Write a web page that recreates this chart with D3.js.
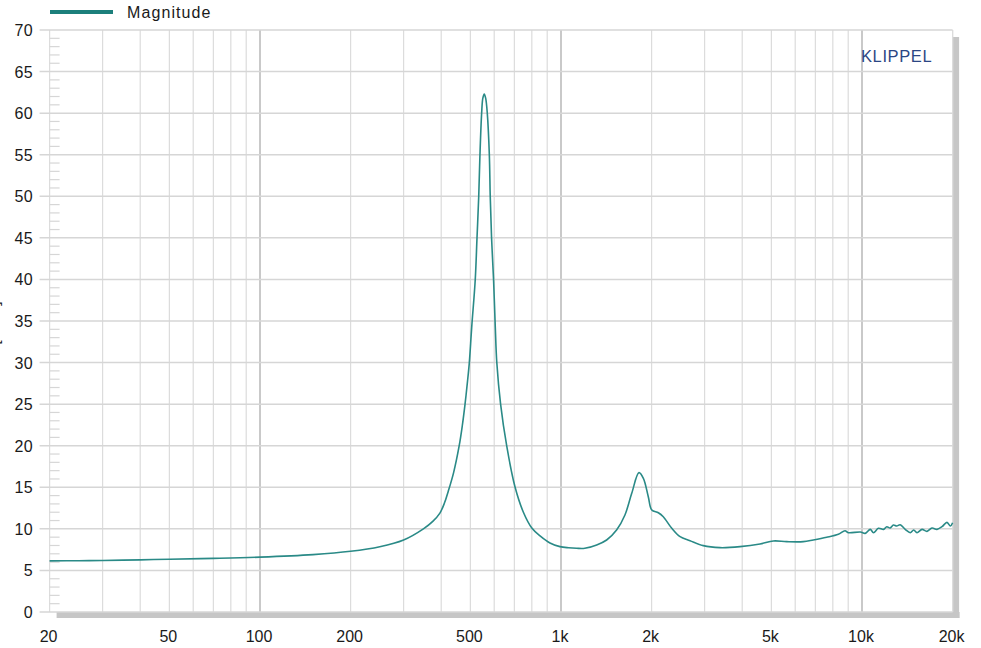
<!DOCTYPE html>
<html><head><meta charset="utf-8">
<script src="https://cdn.jsdelivr.net/npm/d3@7"></script>
<style>
html,body{margin:0;padding:0;background:#fff;}
svg{display:block;font-family:Arial,"Liberation Sans",sans-serif;}
</style></head>
<body><svg id="chart" width="981" height="648"></svg>
<script>
const freqs = [20,25,30,40,50,70,100,150,200,250,300,349,375,396,410,422,440,459,470,480,489,496,505,519,526,533,538,545,550,556,562,569,578,582,588,597,605,612,630,660,704,750,800,852,919,992,1060,1127,1200,1314,1418,1530,1631,1718,1816,1878,1950,2003,2106,2187,2334,2487,2684,2970,3375,3934,4584,5075,5622,6383,6888,7633,8344,8783,9000,9873,10250,10650,10920,11340,11790,12090,12400,12720,13040,13390,13920,14470,14850,15230,15830,16440,17080,17750,18440,19160,19660,20000];
const magnitude = [6.15,6.17,6.2,6.27,6.35,6.45,6.6,6.9,7.3,7.85,8.66,10.0,10.9,11.9,13.1,14.5,16.8,20.0,22.4,25.0,27.7,30.0,34.2,40.0,45.0,50.0,55.0,60.0,61.8,62.3,61.8,60.0,55.0,50.0,45.0,40.0,34.2,30.0,25.0,20.0,15.0,12.0,10.1,9.15,8.3,7.86,7.72,7.66,7.66,8.06,8.66,9.86,11.67,14.27,16.76,16.08,13.87,12.27,11.94,11.46,10.07,9.06,8.58,7.98,7.74,7.86,8.18,8.54,8.46,8.46,8.66,8.98,9.34,9.78,9.54,9.62,9.46,9.94,9.54,10.07,9.94,10.26,10.1,10.46,10.34,10.5,9.94,9.54,9.86,9.54,9.94,9.7,10.1,9.94,10.26,10.78,10.34,10.74];
const xTickValues = [20,50,100,200,500,1000,2000,5000,10000,20000];
const xTickLabels = ["20","50","100","200","500","1k","2k","5k","10k","20k"];
const yTickValues = [0,5,10,15,20,25,30,35,40,45,50,55,60,65,70];
const seriesName = "Magnitude";
const unitLabel = "[Ohm]";
const brand = "KLIPPEL";

const svg = d3.select("#chart");
const X0 = 49.6, X1 = 952.6, Y0 = 30, Y1 = 612;
const x = d3.scaleLog().domain([20,20000]).range([X0,X1]);
const y = d3.scaleLinear().domain([0,70]).range([Y1,Y0]);

// drop shadow
svg.append("rect").attr("x",X1).attr("y",Y0+7).attr("width",6.5).attr("height",Y1-Y0-1).attr("fill","#c6c6c6");
svg.append("rect").attr("x",X0+7).attr("y",Y1).attr("width",X1-X0).attr("height",6).attr("fill","#c6c6c6");
svg.append("rect").attr("x",X0).attr("y",Y0).attr("width",X1-X0).attr("height",Y1-Y0).attr("fill","#fff");

// vertical grid
const vLines = [];
for (let d=10; d<=10000; d*=10) for (let m=1; m<=9; m++){ const f=d*m; if(f>=20 && f<=20000) vLines.push(f); }
vLines.push(20000);
svg.append("g").selectAll("line").data(vLines).join("line")
  .attr("x1",d=>x(d)).attr("x2",d=>x(d)).attr("y1",Y0).attr("y2",Y1)
  .attr("stroke",d=>[100,1000,10000].includes(d)?"#c9c9c9":"#dcdcdc")
  .attr("stroke-width",d=>[100,1000,10000].includes(d)?2:1.2);

// minor y ticks
const minor = d3.range(0,71).filter(v=>v%5!==0);
svg.append("g").selectAll("line").data(minor).join("line")
  .attr("x1",X0).attr("x2",X0+10).attr("y1",d=>y(d)).attr("y2",d=>y(d))
  .attr("stroke","#d6d6d6").attr("stroke-width",1.2);

// horizontal grid
svg.append("g").selectAll("line").data(yTickValues).join("line")
  .attr("x1",X0-10).attr("x2",X1).attr("y1",d=>y(d)).attr("y2",d=>y(d))
  .attr("stroke","#d6d6d6").attr("stroke-width",1.5);

// y labels
svg.append("g").selectAll("text").data(yTickValues).join("text")
  .attr("x",33).attr("y",d=>y(d)+6).attr("text-anchor","end")
  .attr("font-size",16).attr("fill","#1a1a1a").attr("letter-spacing",0.4).text(d=>d);

// x labels
svg.append("g").selectAll("text").data(xTickValues).join("text")
  .attr("x",d=>x(d)-1).attr("y",642).attr("text-anchor","middle")
  .attr("font-size",16).attr("fill","#1a1a1a").text((d,i)=>xTickLabels[i]);

// unit label (mostly clipped, as in the reference)
svg.append("text").attr("transform","translate(-1,323) rotate(-90)")
  .attr("text-anchor","middle").attr("font-size",16).attr("fill","#222").text(unitLabel);

// curve
const line = d3.line().x((d,i)=>x(freqs[i])).y(d=>y(d)).curve(d3.curveCatmullRom.alpha(0.5));
svg.append("path").attr("d",line(magnitude)).attr("fill","none")
  .attr("stroke","#2a8a87").attr("stroke-width",1.6).attr("stroke-linejoin","round");

// legend
svg.append("line").attr("x1",50).attr("x2",113).attr("y1",12).attr("y2",12)
  .attr("stroke","#1c7f7b").attr("stroke-width",4);
svg.append("text").attr("x",127).attr("y",18).attr("font-size",16).attr("letter-spacing",1.1)
  .attr("fill","#1a1a1a").text(seriesName);

// brand
svg.append("text").attr("x",861).attr("y",62).attr("font-size",16.5).attr("letter-spacing",0.6)
  .attr("fill","#2b4684").text(brand);
</script></body></html>
